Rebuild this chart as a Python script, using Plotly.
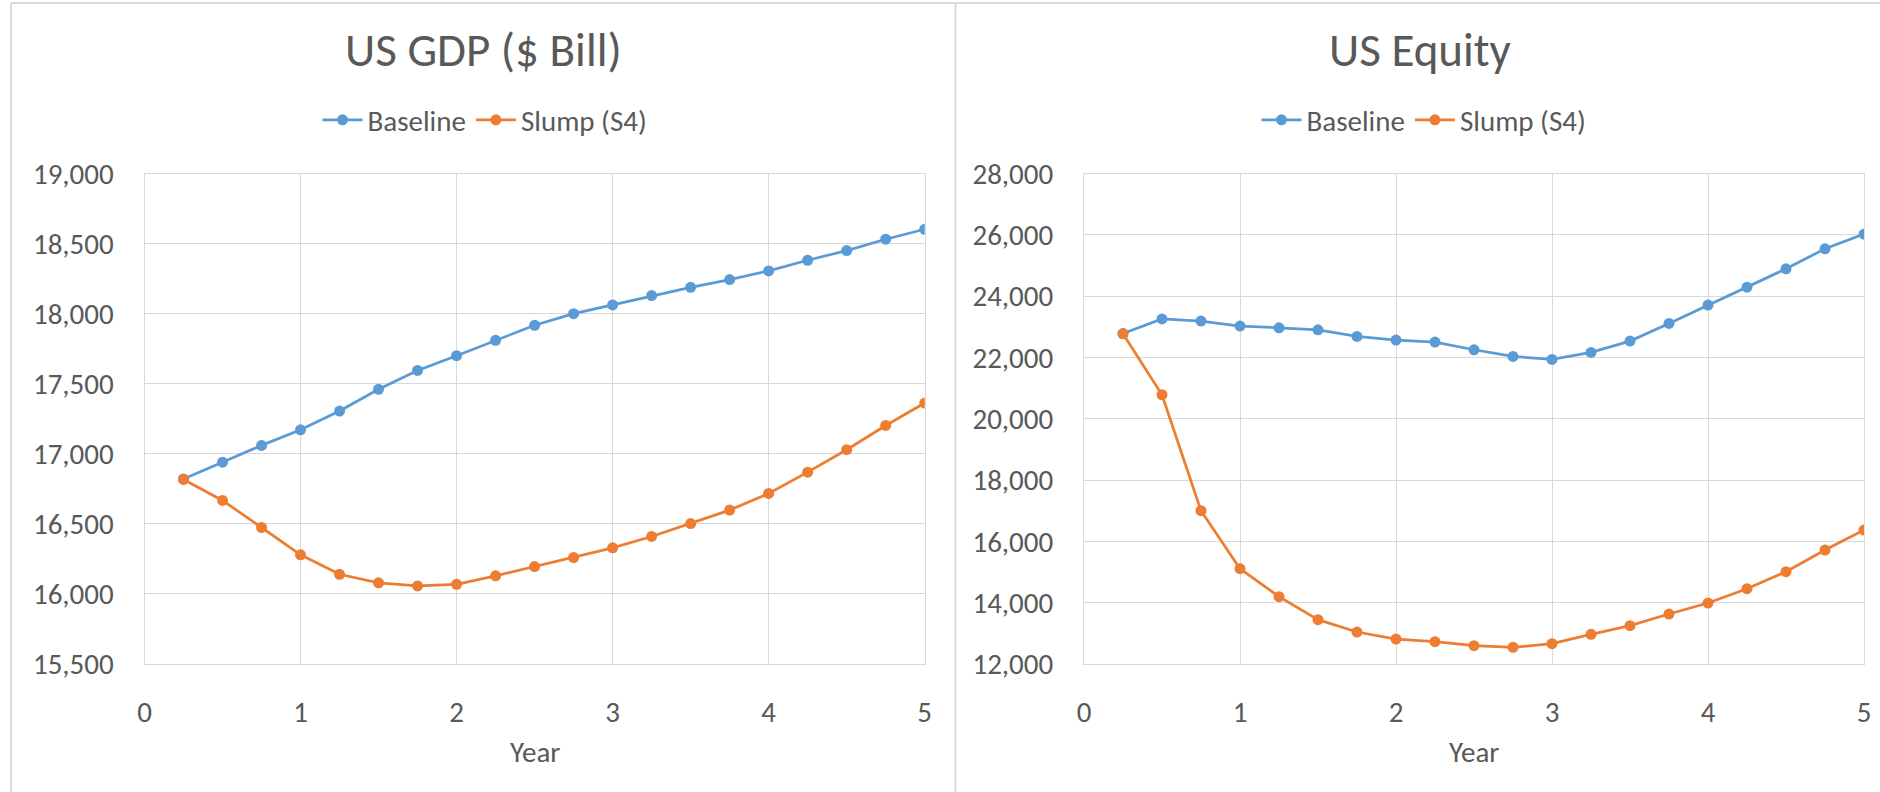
import plotly.graph_objects as go

years = [0.25, 0.5, 0.75, 1.0, 1.25, 1.5, 1.75, 2.0, 2.25, 2.5,
         2.75, 3.0, 3.25, 3.5, 3.75, 4.0, 4.25, 4.5, 4.75, 5.0]

gdp_baseline = [16820, 16940, 17060, 17171, 17305, 17460, 17595, 17700, 17810, 17917,
                18000, 18062, 18129, 18188, 18243, 18305, 18381, 18450, 18531, 18602]
gdp_slump = [16817, 16667, 16474, 16279, 16140, 16079, 16057, 16069, 16129, 16195,
             16260, 16329, 16410, 16502, 16598, 16717, 16869, 17029, 17202, 17362]

eq_baseline = [22780, 23255, 23185, 23022, 22967, 22902, 22685, 22565, 22500, 22250,
               22033, 21935, 22163, 22533, 23109, 23707, 24293, 24891, 25543, 26022]
eq_slump = [22772, 20783, 17000, 15109, 14196, 13446, 13043, 12815, 12728, 12598,
            12543, 12663, 12967, 13250, 13630, 13989, 14457, 15011, 15717, 16370]

titles = ["US GDP ($ Bill)", "US Equity"]
series_names = ["Baseline", "Slump (S4)"]
x_ticks = [0, 1, 2, 3, 4, 5]

BLUE = "#5B9BD5"
ORANGE = "#ED7D31"
TEXT = "#595959"
GRID = "#D9D9D9"
FONT = "Calibri, Carlito, Lato, sans-serif"

W, H = 1880, 792

def px_x(p):
    return p / W

def px_y(p):
    return 1 - p / H

fig = go.Figure()

panels = [
    dict(xa="x", ya="y", legend="legend", b=gdp_baseline, s=gdp_slump),
    dict(xa="x2", ya="y2", legend="legend2", b=eq_baseline, s=eq_slump),
]
for p in panels:
    for name, vals, col in [(series_names[0], p["b"], BLUE), (series_names[1], p["s"], ORANGE)]:
        fig.add_trace(go.Scatter(
            x=years, y=vals, name=name, mode="lines+markers",
            line=dict(color=col, width=2.75),
            marker=dict(color=col, size=11),
            xaxis=p["xa"], yaxis=p["ya"], legend=p["legend"],
        ))

axis_common = dict(
    showgrid=True, gridcolor=GRID, gridwidth=1,
    showline=True, linecolor=GRID, linewidth=1, mirror=True,
    zeroline=False, ticks="", automargin=False,
    tickfont=dict(family=FONT, size=29, color=TEXT),
)

y_top, y_bot = 173.5, 664
fig.update_layout(
    template="none",
    width=W, height=H,
    margin=dict(l=0, r=0, t=0, b=0, pad=0, autoexpand=False),
    paper_bgcolor="white", plot_bgcolor="white",
    font=dict(family=FONT, color=TEXT),
    xaxis=dict(domain=[px_x(144.5), px_x(924.7)], range=[0, 5], tickvals=x_ticks,
               anchor="y", ticklabelstandoff=22, **axis_common),
    yaxis=dict(domain=[px_y(y_bot), px_y(y_top)], range=[15500, 19000], dtick=500,
               tickformat=",d", anchor="x", ticklabelstandoff=24, **axis_common),
    xaxis2=dict(domain=[px_x(1084), px_x(1864)], range=[0, 5], tickvals=x_ticks,
                anchor="y2", ticklabelstandoff=22, **axis_common),
    yaxis2=dict(domain=[px_y(y_bot), px_y(y_top)], range=[12000, 28000], dtick=2000,
                tickformat=",d", anchor="x2", ticklabelstandoff=24, **axis_common),
    legend=dict(orientation="h", x=px_x(485), y=px_y(120), xanchor="center", yanchor="middle",
                font=dict(family=FONT, size=29, color=TEXT), itemwidth=40,
                bgcolor="rgba(0,0,0,0)"),
    legend2=dict(orientation="h", x=px_x(1424), y=px_y(120), xanchor="center", yanchor="middle",
                 font=dict(family=FONT, size=29, color=TEXT), itemwidth=40,
                 bgcolor="rgba(0,0,0,0)"),
    showlegend=True,
)

annotations = [
    dict(text=titles[0], x=px_x(483), y=px_y(50)),
    dict(text=titles[1], x=px_x(1420), y=px_y(50)),
]
for a in annotations:
    fig.add_annotation(xref="paper", yref="paper", showarrow=False,
                       xanchor="center", yanchor="middle",
                       font=dict(family=FONT, size=47, color=TEXT), **a)
for cx in [534.6, 1474]:
    fig.add_annotation(xref="paper", yref="paper", showarrow=False,
                       xanchor="center", yanchor="middle", text="Year",
                       x=px_x(cx), y=px_y(752),
                       font=dict(family=FONT, size=29, color=TEXT))

# chart frames
line = dict(color=GRID, width=2)
fig.add_shape(type="line", xref="paper", yref="paper", x0=px_x(11), x1=1, y0=px_y(3), y1=px_y(3), line=line)
fig.add_shape(type="line", xref="paper", yref="paper", x0=px_x(11), x1=px_x(11), y0=0, y1=px_y(3), line=line)
fig.add_shape(type="line", xref="paper", yref="paper", x0=px_x(955.5), x1=px_x(955.5), y0=0, y1=px_y(3), line=line)

fig.write_html("out.html", config={"displayModeBar": False},
               post_script="document.body.style.margin='0';")
